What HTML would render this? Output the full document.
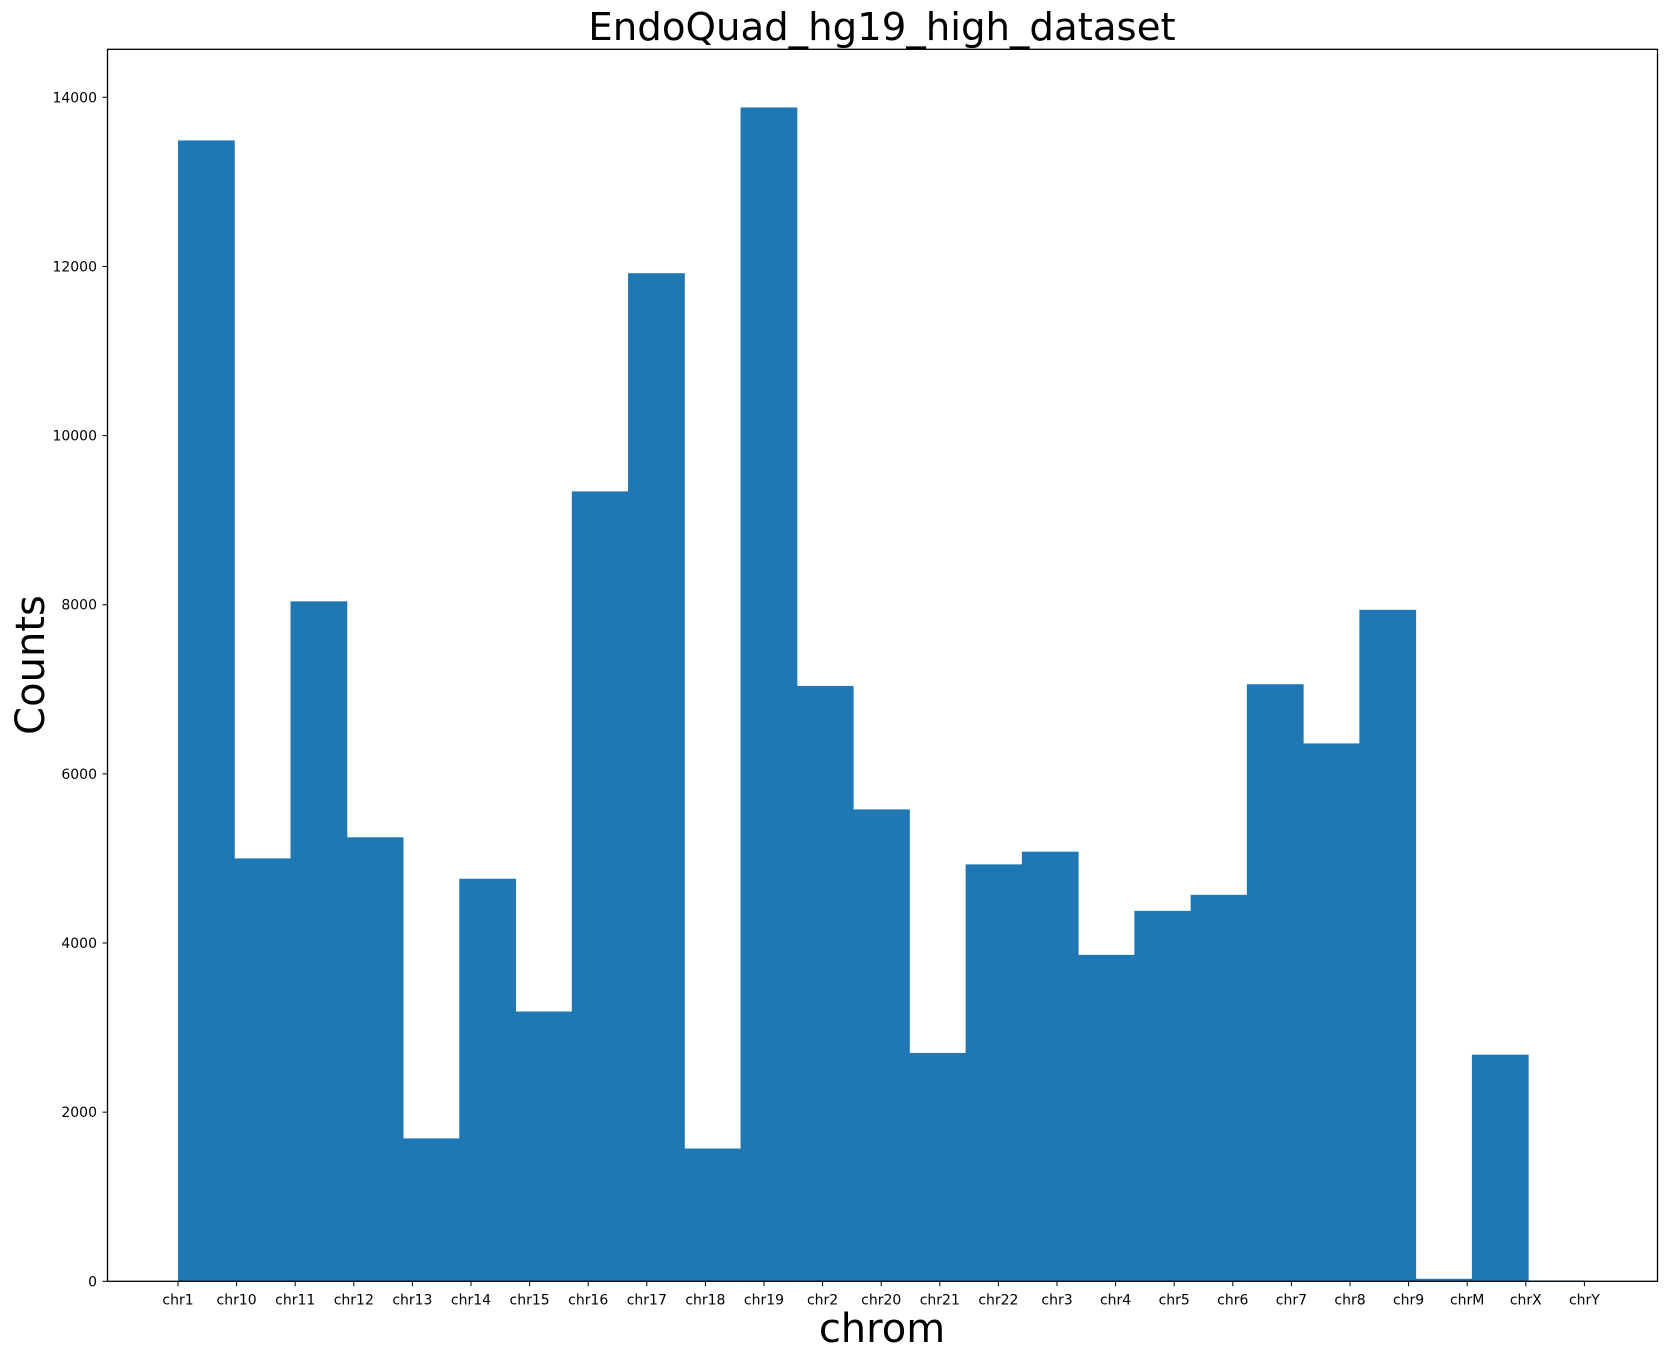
<!DOCTYPE html>
<html><head><meta charset="utf-8"><style>
body{margin:0;background:#fff;}
svg text{font-family:"DejaVu Sans","Liberation Sans",sans-serif;fill:#000;}
</style></head><body>
<svg width="1667" height="1358" id="chart">
<rect x="0" y="0" width="1667" height="1358" fill="#fff"/>
<g id="bars"></g>
<g id="xt"></g>
<g id="yt"></g>
<rect x="107.5" y="49.3" width="1550" height="1232" fill="none" stroke="#000" stroke-width="1.3"/>
<text x="882" y="40" font-size="38.7" text-anchor="middle">EndoQuad_hg19_high_dataset</text>
<text x="882" y="1342" font-size="40" text-anchor="middle">chrom</text>
<text x="0" y="0" font-size="40" text-anchor="middle" transform="translate(44,665) rotate(-90)">Counts</text>
</svg>
<script>
const categories=["chr1","chr10","chr11","chr12","chr13","chr14","chr15","chr16","chr17","chr18","chr19","chr2","chr20","chr21","chr22","chr3","chr4","chr5","chr6","chr7","chr8","chr9","chrM","chrX","chrY"];
const counts=[13490,5000,8040,5250,1690,4760,3190,9340,11920,1570,13880,7040,5580,2700,4930,5080,3860,4380,4570,7060,6360,7940,30,2680,10];
const yTicks=[0,2000,4000,6000,8000,10000,12000,14000];
const NS="http://www.w3.org/2000/svg";
const x0=178, step=58.6, yBase=1281.3, y14=97.3;
function xPos(i){return x0+i*step;}
function yPos(v){return yBase-(yBase-y14)*v/14000;}
const bw=step*(categories.length-1)/categories.length;
const bars=document.getElementById('bars');
counts.forEach((v,i)=>{
 const r=document.createElementNS(NS,'rect');
 
 
 r.setAttribute('x',x0+i*bw);r.setAttribute('width',bw+0.5);
 r.setAttribute('y',yPos(v));r.setAttribute('height',yBase-yPos(v));
 r.setAttribute('fill','#1f77b4');bars.appendChild(r);
});
const xt=document.getElementById('xt');
categories.forEach((c,i)=>{
 const l=document.createElementNS(NS,'line');
 
 
 l.setAttribute('x1',xPos(i));l.setAttribute('x2',xPos(i));l.setAttribute('y1',yBase);l.setAttribute('y2',yBase+5);l.setAttribute('stroke','#000');xt.appendChild(l);
 const t=document.createElementNS(NS,'text');
 
 
 t.setAttribute('x',xPos(i));t.setAttribute('y',yBase+23);t.setAttribute('font-size','14');t.setAttribute('text-anchor','middle');t.textContent=c;xt.appendChild(t);
});
const yt=document.getElementById('yt');
yTicks.forEach(v=>{
 const l=document.createElementNS(NS,'line');
 
 
 l.setAttribute('x1',102.5);l.setAttribute('x2',107.5);l.setAttribute('y1',yPos(v));l.setAttribute('y2',yPos(v));l.setAttribute('stroke','#000');yt.appendChild(l);
 const t=document.createElementNS(NS,'text');
 
 
 t.setAttribute('x',97);t.setAttribute('y',yPos(v)+5);t.setAttribute('font-size','14');t.setAttribute('text-anchor','end');t.textContent=v;yt.appendChild(t);
});
</script>
</body></html>
